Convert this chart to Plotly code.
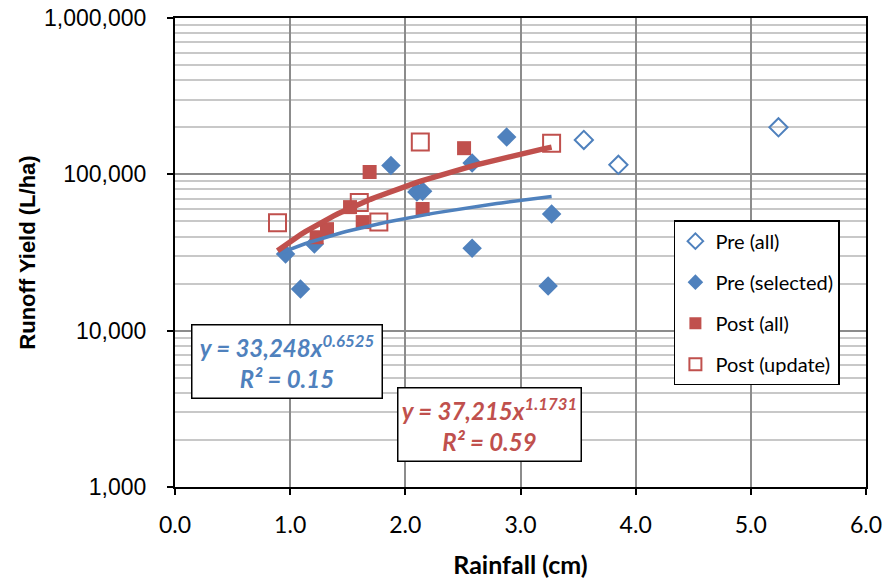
import plotly.graph_objects as go

# ---- data ----
pre_all_x = [3.55, 3.85, 5.24]
pre_all_y = [166000, 115000, 200000]

pre_sel_x = [0.96, 1.09, 1.21, 1.875, 2.10, 2.15, 2.58, 2.58, 2.88, 3.24, 3.27]
pre_sel_y = [30900, 18450, 35800, 114000, 77000, 78000, 118000, 33700, 173000, 19300, 55700]

post_all_x = [1.23, 1.32, 1.52, 1.63, 1.69, 2.15, 2.51]
post_all_y = [39600, 44600, 61700, 49500, 103500, 60000, 147000]

post_upd_x = [0.89, 1.60, 1.77, 2.13, 3.27]
post_upd_y = [49000, 66000, 49500, 161000, 158000]

# power trendlines y = a * x^b
pre_fit = dict(a=33248, b=0.6525, r2=0.15, x0=0.93, x1=3.27)
post_fit = dict(a=37215, b=1.1731, r2=0.59, x0=0.89, x1=3.27)

x_ticks = [0, 1, 2, 3, 4, 5, 6]
y_ticks = [1000, 10000, 100000, 1000000]

BLUE = "#4F81BD"
RED = "#C0504D"


def curve(fit, n=60):
    xs = [fit["x0"] + (fit["x1"] - fit["x0"]) * i / (n - 1) for i in range(n)]
    ys = [fit["a"] * x ** fit["b"] for x in xs]
    return xs, ys


fig = go.Figure()

fig.add_trace(go.Scatter(
    x=pre_all_x, y=pre_all_y, mode="markers", name="Pre (all)", legendgroup="a",
    marker=dict(symbol="diamond-open", size=14, color=BLUE, line=dict(width=2, color=BLUE))))
fig.add_trace(go.Scatter(
    x=pre_sel_x, y=pre_sel_y, mode="markers", name="Pre (selected)", legendgroup="b",
    marker=dict(symbol="diamond", size=15, color=BLUE, line=dict(width=0))))
fig.add_trace(go.Scatter(
    x=post_all_x, y=post_all_y, mode="markers", name="Post (all)", legendgroup="c",
    marker=dict(symbol="square", size=14, color=RED, line=dict(width=0))))
fig.add_trace(go.Scatter(
    x=post_upd_x, y=post_upd_y, mode="markers", name="Post (update)", legendgroup="d",
    marker=dict(symbol="square-open", size=17, color=RED, line=dict(width=2, color=RED))))

bx, by = curve(pre_fit)
fig.add_trace(go.Scatter(x=bx, y=by, mode="lines", showlegend=False, hoverinfo="skip",
                         line=dict(color=BLUE, width=3.5)))
rx, ry = curve(post_fit)
fig.add_trace(go.Scatter(x=rx, y=ry, mode="lines", showlegend=False, hoverinfo="skip",
                         line=dict(color=RED, width=5.5)))

minor_vals = [k * 10 ** d for d in (3, 4, 5) for k in range(2, 10)]

fig.update_layout(
    width=884, height=580,
    margin=dict(l=175, r=18, t=18, b=93),
    paper_bgcolor="white", plot_bgcolor="white",
    font=dict(family="Lato, Liberation Sans, sans-serif", color="black"),
    xaxis=dict(
        range=[0, 6], tickvals=x_ticks, ticktext=[f"{v:.1f}" for v in x_ticks],
        showgrid=True, gridcolor="#8C8C8C", gridwidth=1.5,
        showline=True, linecolor="black", linewidth=2, mirror=True,
        ticks="outside", ticklen=6, tickcolor="black", tickwidth=2,
        ticklabelstandoff=10, ticklabeloverflow="allow", automargin=False,
        tickfont=dict(size=23, family="Lato, sans-serif"),
        zeroline=False,
        title=dict(text="<b>Rainfall (cm)</b>", font=dict(size=25, family="Lato, sans-serif"), standoff=20),
    ),
    yaxis=dict(
        type="log", range=[3, 6], tickvals=y_ticks,
        ticktext=[f"{v:,}" for v in y_ticks],
        showgrid=True, gridcolor="#8C8C8C", gridwidth=1.5,
        minor=dict(tickmode="array", tickvals=minor_vals, showgrid=True,
                   gridcolor="#C8C8C8", gridwidth=1.5, ticks=""),
        showline=True, linecolor="black", linewidth=2, mirror=True,
        ticks="outside", ticklen=6, tickcolor="black", tickwidth=2,
        ticklabelstandoff=16, ticklabeloverflow="allow", automargin=False,
        tickfont=dict(size=23, family="Liberation Sans, Arial, sans-serif"),
        zeroline=False,
        title=dict(text="<b>Runoff Yield (L/ha)</b>", font=dict(size=22, family="Liberation Sans, Arial, sans-serif"), standoff=2),
    ),
    legend=dict(
        x=0.722, y=0.569, xanchor="left", yanchor="top",
        bgcolor="white", bordercolor="black", borderwidth=1.5,
        font=dict(size=20, family="Lato, sans-serif"),
        tracegroupgap=12, itemsizing="constant",
    ),
    showlegend=True,
)

fig.add_annotation(
    x=0.972, y=3.805, xref="x", yref="y", showarrow=False,
    text=f"<b><i>y = {pre_fit['a']:,}x<sup>{pre_fit['b']}</sup></i></b><br><b><i>R² = {pre_fit['r2']}</i></b>",
    font=dict(size=24, color=BLUE, family="Lato, sans-serif"),
    bgcolor="white", bordercolor="black", borderwidth=1.5, borderpad=2,
    width=185, height=68, align="center",
)
fig.add_annotation(
    x=2.734, y=3.402, xref="x", yref="y", showarrow=False,
    text=f"<b><i>y = {post_fit['a']:,}x<sup>{post_fit['b']}</sup></i></b><br><b><i>R² = {post_fit['r2']}</i></b>",
    font=dict(size=24, color=RED, family="Lato, sans-serif"),
    bgcolor="white", bordercolor="black", borderwidth=1.5, borderpad=2,
    width=178, height=68, align="center",
)

# remove the page's default body margin so the 884x580 figure fills the window exactly
fig.write_html("out.html", config={"displayModeBar": False},
               post_script="document.body.style.margin='0';")
